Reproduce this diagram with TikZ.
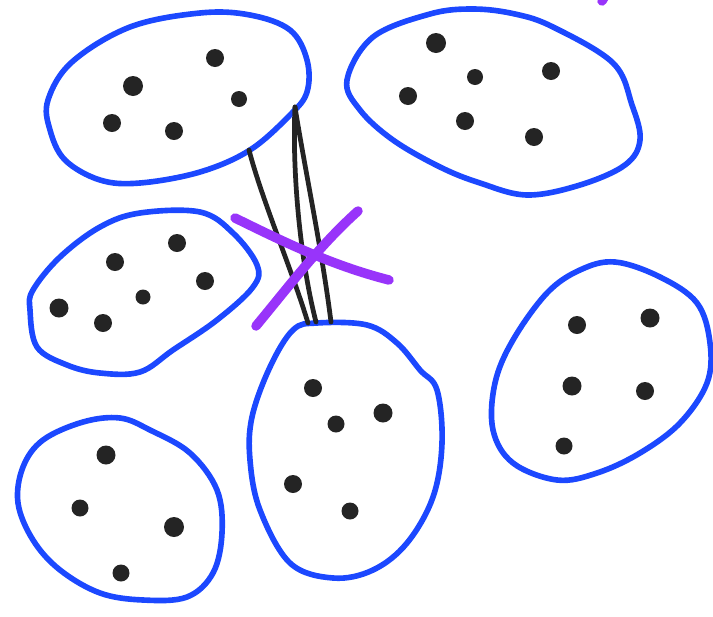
\documentclass[tikz,border=0pt]{standalone}
\usepackage{tikz}
\definecolor{penblue}{RGB}{28,72,255}
\definecolor{penpurple}{RGB}{152,52,250}
\definecolor{ink}{RGB}{36,36,36}

\begin{document}
\begin{tikzpicture}[x=0.02cm,y=-0.02cm,
 blob/.style={draw=penblue,line width=3.2pt,line join=round},
 tie/.style={draw=ink,line width=2.7pt,line cap=round},
 cross/.style={draw=penpurple,line width=5.4pt,line cap=round},
 dot/.style={fill=ink}]
\useasboundingbox (0,0) rectangle (713,616);
% clusters
\draw[blob] plot[smooth cycle,tension=.6] coordinates {(48,100) (72,62) (130,27) (200,13) (250,15) (290,30) (307,60) (307,92) (290,115) (250,150) (200,172) (140,183) (100,180) (65,160) (50,130)};
\draw[blob] plot[smooth cycle,tension=.6] coordinates {(347,80) (373,37) (430,14) (473,9) (515,14) (553,27) (613,63) (632,105) (640,140) (625,165) (580,185) (527,195) (480,183) (440,167) (393,140) (360,110)};
\draw[blob] plot[smooth cycle,tension=.6] coordinates {(140,213) (200,212) (233,233) (257,265) (253,287) (217,320) (173,350) (140,372) (100,373) (67,365) (37,347) (30,310) (33,290) (60,257) (100,227)};
\draw[blob] plot[smooth cycle,tension=.6] coordinates {(120,418) (83,422) (43,440) (23,467) (18,503) (33,540) (60,570) (100,593) (143,600) (187,597) (213,573) (222,533) (217,490) (190,453) (150,430)};
\draw[blob] plot[smooth cycle,tension=.6] coordinates {(317,323) (293,330) (270,367) (252,417) (250,460) (260,510) (290,563) (333,578) (373,570) (407,543) (433,497) (442,443) (437,390) (420,370) (397,343) (367,325)};
\draw[blob] plot[smooth cycle,tension=.6] coordinates {(615,262) (580,270) (547,293) (513,340) (495,383) (493,430) (513,463) (557,480) (597,473) (640,453) (680,423) (707,383) (710,343) (697,303) (660,277)};
% points
\foreach \x/\y/\r in {133/86/10,215/58/9,239/99/8,112/123/9,174/131/9,
 436/43/10,475/77/8,551/71/9,408/96/9,465/121/9,534/137/9,
 115/262/9,177/243/9,205/281/9,143/297/7.5,59/308/9.5,103/323/9,
 106/455/9.5,80/508/8.5,174/527/10,121/573/8.5,
 313/388/9,336/424/8.5,383/413/9.5,293/484/9,350/511/8.5,
 577/325/9,650/318/9.5,572/386/9.5,645/391/9,564/446/8.5}
 {\fill[dot] (\x,\y) circle[radius=\r*0.02cm];}
% links between the two clusters
\coordinate (la) at (249,150);
\coordinate (lb) at (295,107);
\coordinate (ea) at (308,323);
\coordinate (eb) at (316,322);
\coordinate (ec) at (331,322);
\draw[tie] (la) .. controls (262,200) and (292,270) .. (ea);
\draw[tie] (lb) .. controls (292,170) and (300,260) .. (eb);
\draw[tie] (lb) .. controls (305,170) and (322,250) .. (ec);
% struck out
\coordinate (xa) at (235,218);
\coordinate (xb) at (389,280);
\coordinate (xc) at (358,211);
\coordinate (xd) at (256,326);
\draw[cross] (xa) .. controls (280,240) and (330,265) .. (xb);
\draw[cross] (xc) .. controls (320,245) and (290,285) .. (xd);
\coordinate (ma) at (606,-6);
\coordinate (mb) at (602,1);
\begin{scope}
\clip (0,0) rectangle (713,616);
\draw[cross] (ma) -- (mb);
\end{scope}
\end{tikzpicture}
\end{document}
